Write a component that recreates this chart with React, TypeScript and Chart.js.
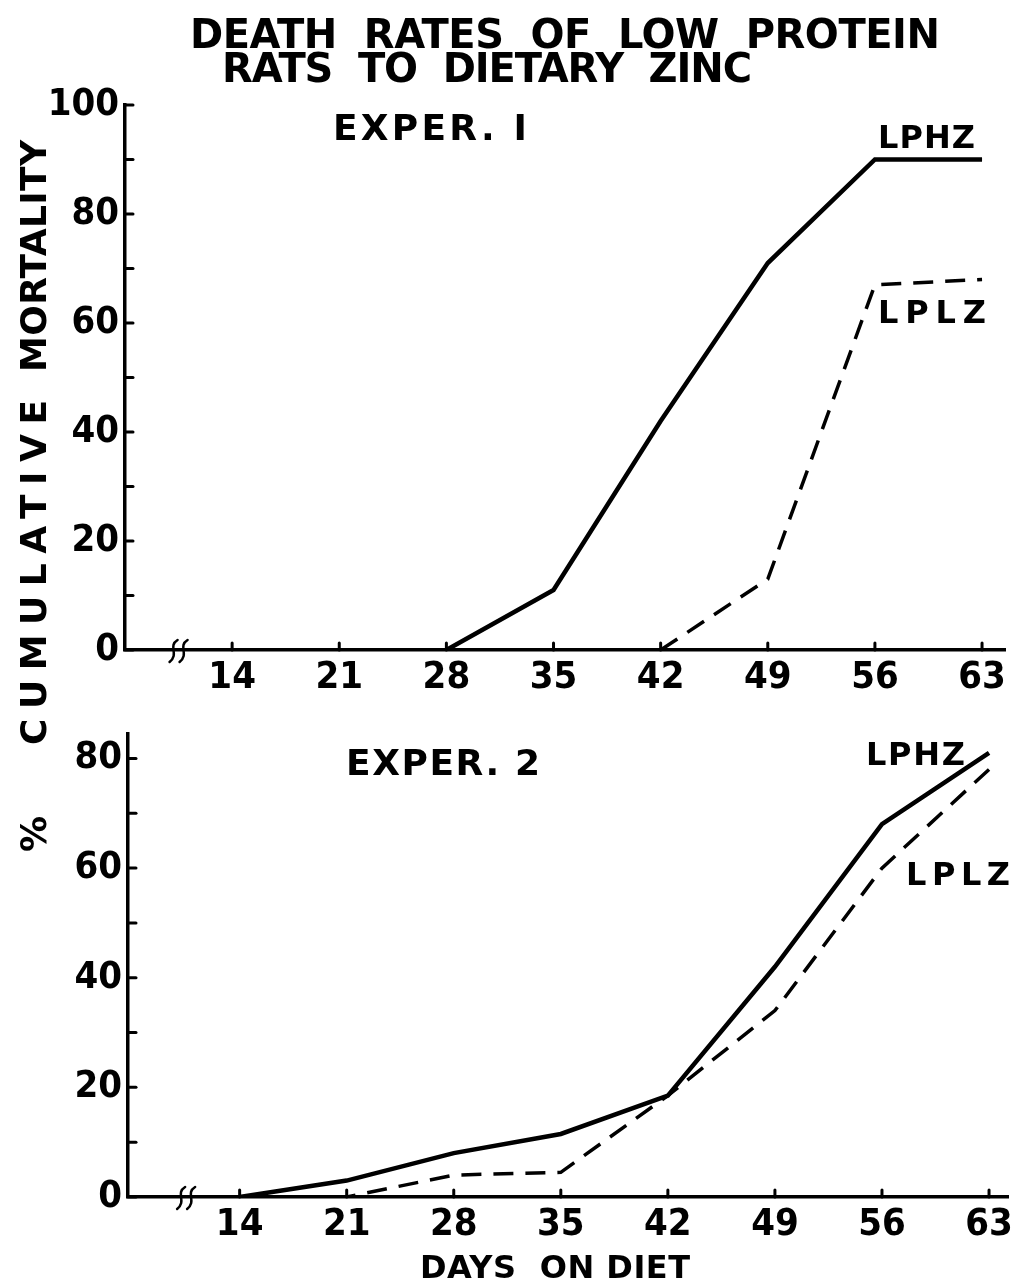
import React, { useEffect, useRef } from "react";
import { Chart, registerables } from "chart.js";

Chart.register(...registerables);

// ---- data ----
const days = [14, 21, 28, 35, 42, 49, 56, 63];
const exp1LPHZ: (number | null)[] = [null, null, 0, 11, 42, 71, 90, 90];
const exp1LPLZ: (number | null)[] = [null, null, null, null, 0, 13, 67, 68];
const exp2LPHZ: (number | null)[] = [0, 3, 8, 11.5, 18.5, 42, 68, 81];
const exp2LPLZ: (number | null)[] = [0, 0, 4, 4.5, 18.5, 34, 60, 78];
const yTicks1 = [0, 20, 40, 60, 80, 100];
const yMinor1 = [10, 30, 50, 70, 90];
const yTicks2 = [0, 20, 40, 60, 80];
const yMinor2 = [10, 30, 50, 70];

const FONT = "'DejaVu Sans', 'Liberation Sans', sans-serif";
const TICK_FONT = "'DejaVu Sans Condensed', 'DejaVu Sans', sans-serif";

const pts = (vals: (number | null)[]) =>
  days.map((d, i) => ({ x: d, y: vals[i] })).filter((p) => p.y !== null);

const innerTicks = {
  id: "innerTicks",
  afterDatasetsDraw(chart: any, _a: any, opts: any) {
    const { ctx, chartArea } = chart;
    const x = chart.scales.x;
    const y = chart.scales.y;
    ctx.save();
    ctx.strokeStyle = "#000";
    ctx.lineWidth = 3;
    ctx.lineCap = "round";
    (opts.yTicks || []).forEach((v: number) => {
      const py = y.getPixelForValue(v);
      ctx.beginPath();
      ctx.moveTo(chartArea.left, py);
      ctx.lineTo(chartArea.left + 8, py);
      ctx.stroke();
    });
    (opts.xTicks || []).forEach((v: number) => {
      const px = x.getPixelForValue(v);
      ctx.beginPath();
      ctx.moveTo(px, chartArea.bottom);
      ctx.lineTo(px, chartArea.bottom - 7);
      ctx.stroke();
    });
    // axis break mark
    const bx = x.getPixelForValue(opts.breakAt);
    const by = chartArea.bottom;
    ctx.lineWidth = 2.5;
    [-5, 5].forEach((dx) => {
      ctx.beginPath();
      ctx.moveTo(bx + dx + 4, by - 10);
      ctx.bezierCurveTo(bx + dx - 6, by - 4, bx + dx + 6, by + 4, bx + dx - 4, by + 12);
      ctx.stroke();
    });
    ctx.restore();
  },
};

function makeConfig(
  lphz: (number | null)[],
  lplz: (number | null)[],
  xMin: number,
  xMax: number,
  yMax: number,
  yTicks: number[],
  yMinor: number[],
  padTop: number,
  padRight: number,
  yWidth: number
): any {
  const tickFont = { family: TICK_FONT, size: 38, weight: "bold" as const };
  return {
    type: "line",
    data: {
      datasets: [
        {
          label: "LPHZ",
          data: pts(lphz),
          borderColor: "#000",
          borderWidth: 4.5,
          pointRadius: 0,
          tension: 0,
          fill: false,
        },
        {
          label: "LPLZ",
          data: pts(lplz),
          borderColor: "#000",
          borderWidth: 3.5,
          borderDash: [20, 12],
          pointRadius: 0,
          tension: 0,
          fill: false,
        },
      ],
    },
    options: {
      responsive: false,
      animation: false,
      layout: { padding: { top: padTop, right: padRight, left: 0, bottom: 0 } },
      plugins: {
        legend: { display: false },
        tooltip: { enabled: false },
        innerTicks: {
          yTicks: [...yTicks, ...yMinor],
          xTicks: days,
          breakAt: 10.5,
        },
      },
      scales: {
        x: {
          type: "linear",
          min: xMin,
          max: xMax,
          grid: { display: false, drawTicks: false },
          border: { display: true, color: "#000", width: 3.5 },
          ticks: { font: tickFont, color: "#000", padding: 5, autoSkip: false, maxRotation: 0 },
          afterBuildTicks: (s: any) => {
            s.ticks = days.map((v) => ({ value: v }));
          },
          afterFit: (s: any) => {
            s.height = 50;
          },
        },
        y: {
          type: "linear",
          min: 0,
          max: yMax,
          grid: { display: false, drawTicks: false },
          border: { display: true, color: "#000", width: 3.5 },
          ticks: { font: tickFont, color: "#000", padding: 6 },
          afterBuildTicks: (s: any) => {
            s.ticks = yTicks.map((v) => ({ value: v }));
          },
          afterFit: (s: any) => {
            s.width = yWidth;
          },
        },
      },
    },
    plugins: [innerTicks],
  };
}

export default function App() {
  const c1 = useRef<HTMLCanvasElement>(null);
  const c2 = useRef<HTMLCanvasElement>(null);

  useEffect(() => {
    const ch1 = new Chart(
      c1.current!,
      makeConfig(exp1LPHZ, exp1LPLZ, 7, 64.5, 100, yTicks1, yMinor1, 35, 13, 125)
    );
    const ch2 = new Chart(
      c2.current!,
      makeConfig(exp2LPHZ, exp2LPLZ, 6.7, 64.3, 84.5, yTicks2, yMinor2, 28, 8, 128)
    );
    return () => {
      ch1.destroy();
      ch2.destroy();
    };
  }, []);

  const txt = {
    fontFamily: FONT,
    fontWeight: "bold" as const,
    fill: "#000",
    xmlSpace: "preserve",
  } as any;

  return (
    <div style={{ position: "absolute", left: 0, top: 0, width: 1018, height: 1281, background: "#fff" }}>
      <canvas
        ref={c1}
        width={1018}
        height={630}
        style={{ position: "absolute", left: 0, top: 70, width: 1018, height: 630 }}
      />
      <canvas
        ref={c2}
        width={1018}
        height={542}
        style={{ position: "absolute", left: 0, top: 705, width: 1018, height: 542 }}
      />
      <svg
        width={1018}
        height={1281}
        style={{ position: "absolute", left: 0, top: 0, pointerEvents: "none" }}
      >
        <text {...txt} x={190} y={48} fontSize={40} textLength={750} lengthAdjust="spacing">
          {"DEATH  RATES  OF  LOW  PROTEIN"}
        </text>
        <text {...txt} x={222} y={82} fontSize={40} textLength={530} lengthAdjust="spacing">
          {"RATS  TO  DIETARY  ZINC"}
        </text>
        <text {...txt} x={333} y={140} fontSize={36} textLength={194} lengthAdjust="spacing">
          {"EXPER. I"}
        </text>
        <text {...txt} x={346} y={775} fontSize={36} textLength={194} lengthAdjust="spacing">
          {"EXPER. 2"}
        </text>
        <text {...txt} x={878} y={148} fontSize={32} textLength={97} lengthAdjust="spacing">
          LPHZ
        </text>
        <text {...txt} x={878} y={323} fontSize={32} textLength={108} lengthAdjust="spacing">
          LPLZ
        </text>
        <text {...txt} x={866} y={765} fontSize={32} textLength={99} lengthAdjust="spacing">
          LPHZ
        </text>
        <text {...txt} x={906} y={885} fontSize={32} textLength={104} lengthAdjust="spacing">
          LPLZ
        </text>
        <text {...txt} x={420} y={1278} fontSize={32} textLength={270} lengthAdjust="spacing">
          {"DAYS  ON DIET"}
        </text>
        <text {...txt} fontSize={36} transform="translate(46, 372) rotate(-90)" textLength={232} lengthAdjust="spacing">
          MORTALITY
        </text>
        <text {...txt} fontSize={36} transform="translate(46, 745) rotate(-90)" textLength={345} lengthAdjust="spacing">
          CUMULATIVE
        </text>
        <text {...txt} fontSize={36} transform="translate(46, 852) rotate(-90)" textLength={45} lengthAdjust="spacing">
          %
        </text>
      </svg>
    </div>
  );
}
